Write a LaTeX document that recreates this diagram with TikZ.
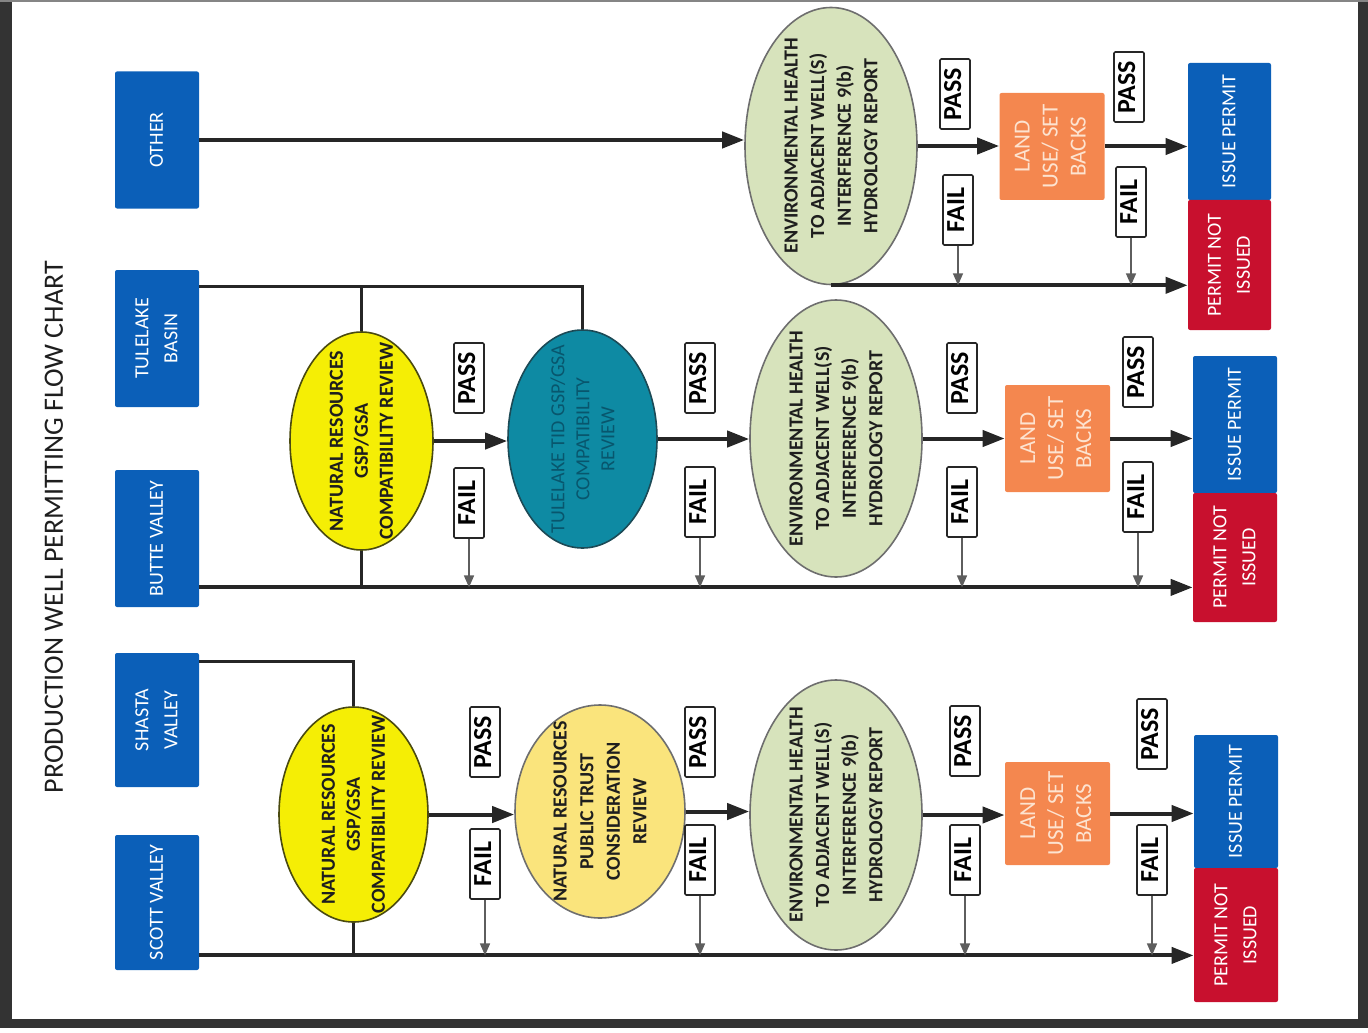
\documentclass[tikz,border=0pt]{standalone}
\usepackage{fontspec}
\setmainfont{Carlito}
\usetikzlibrary{shapes.geometric,arrows.meta,calc}
\definecolor{framec}{HTML}{333333}
\definecolor{boxblue}{HTML}{0B5FB8}
\definecolor{boxred}{HTML}{C8102E}
\definecolor{luorange}{HTML}{F4874F}
\definecolor{lutext}{HTML}{FDE3D0}
\definecolor{ehgreen}{HTML}{D7E3BC}
\definecolor{ehborder}{HTML}{6E6E6E}
\definecolor{nryellow}{HTML}{F5EE05}
\definecolor{nrborder}{HTML}{4A4A10}
\definecolor{ptyellow}{HTML}{FAE47C}
\definecolor{tealc}{HTML}{0E8AA3}
\definecolor{tealtext}{HTML}{08566D}
\definecolor{tealborder}{HTML}{1C4A56}
\definecolor{linec}{HTML}{262626}
\definecolor{failc}{HTML}{5E5E5E}
\definecolor{textdark}{HTML}{1E1E1E}
\newcommand{\rt}[1]{\rotatebox{90}{\begin{tabular}{@{}c@{}}#1\end{tabular}}}
\begin{document}
\begin{tikzpicture}[x=0.5pt,y=-0.5pt,
  blk/.style={rectangle, rounded corners=1pt, fill=boxblue, text=white, inner sep=0pt,
    minimum width=42pt, minimum height=68.5pt, font=\fontsize{10}{14.5}\selectfont},
  rd/.style={blk, fill=boxred, text=white},
  lu/.style={rectangle, rounded corners=1pt, fill=luorange, text=lutext, inner sep=0pt,
    minimum width=52.5pt, minimum height=53.5pt, font=\fontsize{11.5}{14}\selectfont},
  ell/.style={ellipse, inner sep=0pt, line width=0.8pt},
  eh/.style={ell, fill=ehgreen, draw=ehborder, minimum width=86pt, minimum height=138.5pt},
  elltext/.style={rotate=90, align=center, text=textdark, inner sep=0pt,
    font=\bfseries\fontsize{10}{13.3}\selectfont},
  pf/.style={rectangle, draw=linec, line width=0.8pt, fill=white, inner sep=0pt, rounded corners=0.6pt,
    minimum width=15pt, minimum height=35pt, font=\bfseries\fontsize{13}{15}\selectfont},
  con/.style={draw=linec, line width=2pt},
  thin/.style={draw=linec, line width=1.5pt},
  arr/.style={con, -{Triangle[length=11pt,width=8pt]}},
  fa/.style={draw=failc, line width=0.8pt, -{Triangle[length=6pt,width=5pt]}}
]
\useasboundingbox (0,0) rectangle (1368,1032);
% frame
\fill[framec] (0,0) rectangle (12,1028);
\fill[framec] (0,1019) rectangle (1368,1028);
\fill[framec] (1358,0) rectangle (1368,1028);
\fill[framec!60] (0,0) rectangle (1368,2.5);

% title
\node[rotate=90, text=textdark, font=\fontsize{14}{16}\selectfont, inner sep=0pt] (title) at (54,527) {PRODUCTION WELL PERMITTING FLOW CHART};

% source boxes
\node[blk] (other) at (157,140) {\rt{OTHER}};
\node[blk] (tule) at (157,338.5) {\rt{TULELAKE\\BASIN}};
\node[blk] (butte) at (157,538.5) {\rt{BUTTE VALLEY}};
\node[blk, minimum height=67pt] (shasta) at (157,720) {\rt{SHASTA\\VALLEY}};
\node[blk, minimum height=67.5pt] (scott) at (157,902.5) {\rt{SCOTT VALLEY}};

% ---------- row 1 ----------
\node[eh] (eh1) at (831,146) {};
\node[elltext] (eh1t) at (eh1) {ENVIRONMENTAL HEALTH\\TO ADJACENT WELL(S)\\INTERFERENCE 9(b)\\HYDROLOGY REPORT};
\node[lu] (lu1) at (1052,146.5) {\rt{LAND\\USE/ SET\\BACKS}};
\node[blk, minimum width=41.5pt, minimum height=68.5pt] (ip1) at (1229.5,131.5) {\rt{ISSUE PERMIT}};
\node[rd, minimum width=41.5pt, minimum height=65pt] (pni1) at (1229.5,265) {\rt{PERMIT NOT\\ISSUED}};

% ---------- row 2 ----------
\node[ell, fill=nryellow, draw=nrborder, minimum width=71.5pt, minimum height=109pt] (nr1) at (361.5,441) {};
\begin{scope}
  \clip (nr1.center) ellipse [x radius=35.75pt, y radius=54.5pt];
  \node[elltext, font=\bfseries\fontsize{10}{12.5}\selectfont] (nr1t) at (nr1) {NATURAL RESOURCES\\GSP/GSA\\COMPATIBILITY REVIEW};
\end{scope}
\node[ell, fill=tealc, draw=tealborder, minimum width=74.5pt, minimum height=109pt] (teal) at (582.5,439) {};
\begin{scope}
  \clip (teal.center) ellipse [x radius=37.25pt, y radius=54.5pt];
  \node[elltext, text=tealtext, font=\fontsize{10}{12.5}\selectfont] (tealt) at (teal) {TULELAKE TID GSP/GSA\\COMPATIBILITY\\REVIEW};
\end{scope}
\node[eh] (eh2) at (836,438.5) {};
\node[elltext] (eh2t) at (eh2) {ENVIRONMENTAL HEALTH\\TO ADJACENT WELL(S)\\INTERFERENCE 9(b)\\HYDROLOGY REPORT};
\node[lu] (lu2) at (1057.5,438.5) {\rt{LAND\\USE/ SET\\BACKS}};
\node[blk] (ip2) at (1235,424.5) {\rt{ISSUE PERMIT}};
\node[rd, minimum height=64.5pt] (pni2) at (1235,557.5) {\rt{PERMIT NOT\\ISSUED}};

% ---------- row 3 ----------
\node[ell, fill=nryellow, draw=nrborder, minimum width=74.5pt, minimum height=107.5pt] (nr2) at (353.5,814.5) {};
\begin{scope}
  \clip (nr2.center) ellipse [x radius=37.25pt, y radius=53.75pt];
  \node[elltext, font=\bfseries\fontsize{10}{12.5}\selectfont] (nr2t) at (nr2) {NATURAL RESOURCES\\GSP/GSA\\COMPATIBILITY REVIEW};
\end{scope}
\node[ell, fill=ptyellow, draw=ehborder, minimum width=85pt, minimum height=106.5pt] (nr3) at (600,811.5) {};
\begin{scope}
  \clip (nr3.center) ellipse [x radius=42.5pt, y radius=53.25pt];
  \node[elltext, font=\bfseries\fontsize{10}{13.3}\selectfont] (nr3t) at (nr3) {NATURAL RESOURCES\\PUBLIC TRUST\\CONSIDERATION\\REVIEW};
\end{scope}
\node[eh, minimum height=135pt] (eh3) at (836,815) {};
\node[elltext] (eh3t) at (eh3) {ENVIRONMENTAL HEALTH\\TO ADJACENT WELL(S)\\INTERFERENCE 9(b)\\HYDROLOGY REPORT};
\node[lu, minimum height=51.5pt] (lu3) at (1057.5,813.5) {\rt{LAND\\USE/ SET\\BACKS}};
\node[blk, minimum height=66.5pt] (ip3) at (1236,801.5) {\rt{ISSUE PERMIT}};
\node[rd, minimum height=67pt] (pni3) at (1236,935) {\rt{PERMIT NOT\\ISSUED}};

% PASS / FAIL labels
\node[pf] (p11) at (955,94) {\rt{PASS}};
\node[pf] (f11) at (958,210) {\rt{FAIL}};
\node[pf] (p12) at (1129,87) {\rt{PASS}};
\node[pf] (f12) at (1131,202) {\rt{FAIL}};

\node[pf] (p21) at (469,378) {\rt{PASS}};
\node[pf] (f21) at (469,503) {\rt{FAIL}};
\node[pf] (p22) at (700,378) {\rt{PASS}};
\node[pf] (f22) at (700,502) {\rt{FAIL}};
\node[pf] (p23) at (962,378) {\rt{PASS}};
\node[pf] (f23) at (962,502) {\rt{FAIL}};
\node[pf] (p24) at (1138,372) {\rt{PASS}};
\node[pf] (f24) at (1138,497) {\rt{FAIL}};

\node[pf] (p31) at (485,742) {\rt{PASS}};
\node[pf] (f31) at (485,864) {\rt{FAIL}};
\node[pf] (p32) at (700,742) {\rt{PASS}};
\node[pf] (f32) at (700,860) {\rt{FAIL}};
\node[pf] (p33) at (965,741) {\rt{PASS}};
\node[pf] (f33) at (965,860) {\rt{FAIL}};
\node[pf] (p34) at (1152,734) {\rt{PASS}};
\node[pf] (f34) at (1152,860) {\rt{FAIL}};

% helper coordinates on the trunk lines
\coordinate (r1) at (eh1.south);
\coordinate (t0) at ($(tule.north east)+(0,17)$);
\coordinate (r2) at ($(butte.south east)+(0,-20)$);
\coordinate (s0) at ($(shasta.north east)+(0,9)$);
\coordinate (r3) at ($(scott.south east)+(0,-15)$);

% row 1 connectors
\draw[arr] (other.east) -- (other.east -| eh1.west);
\draw[arr] (eh1.east) -- (eh1.east -| lu1.west);
\draw[arr] (lu1.east) -- (lu1.east -| ip1.west);
\draw[arr] (r1) -- (r1 -| pni1.west);
\draw[fa] (f11.south) -- (f11.south |- r1);
\draw[fa] (f12.south) -- (f12.south |- r1);

% row 2 connectors
\draw[thin] (t0) -| (teal.north);
\draw[thin] (nr1.north) -- (nr1.north |- t0);
\draw[arr] (r2) -- (r2 -| pni2.west);
\draw[thin] (nr1.south) -- (nr1.south |- r2);
\draw[arr] (nr1.east) -- (nr1.east -| teal.west);
\draw[arr] (teal.east) -- (teal.east -| eh2.west);
\draw[arr] (eh2.east) -- (eh2.east -| lu2.west);
\draw[arr] (lu2.east) -- (lu2.east -| ip2.west);
\draw[fa] (f21.south) -- (f21.south |- r2);
\draw[fa] (f22.south) -- (f22.south |- r2);
\draw[fa] (f23.south) -- (f23.south |- r2);
\draw[fa] (f24.south) -- (f24.south |- r2);

% row 3 connectors
\draw[thin] (s0) -| (nr2.north);
\draw[arr] (r3) -- (r3 -| pni3.west);
\draw[thin] (nr2.south) -- (nr2.south |- r3);
\draw[arr] (nr2.east) -- (nr2.east -| nr3.west);
\draw[arr] (nr3.east) -- (nr3.east -| eh3.west);
\draw[arr] (eh3.east) -- (eh3.east -| lu3.west);
\draw[arr] (lu3.east) -- (lu3.east -| ip3.west);
\draw[fa] (f31.south) -- (f31.south |- r3);
\draw[fa] (f32.south) -- (f32.south |- r3);
\draw[fa] (f33.south) -- (f33.south |- r3);
\draw[fa] (f34.south) -- (f34.south |- r3);
\end{tikzpicture}
\end{document}
